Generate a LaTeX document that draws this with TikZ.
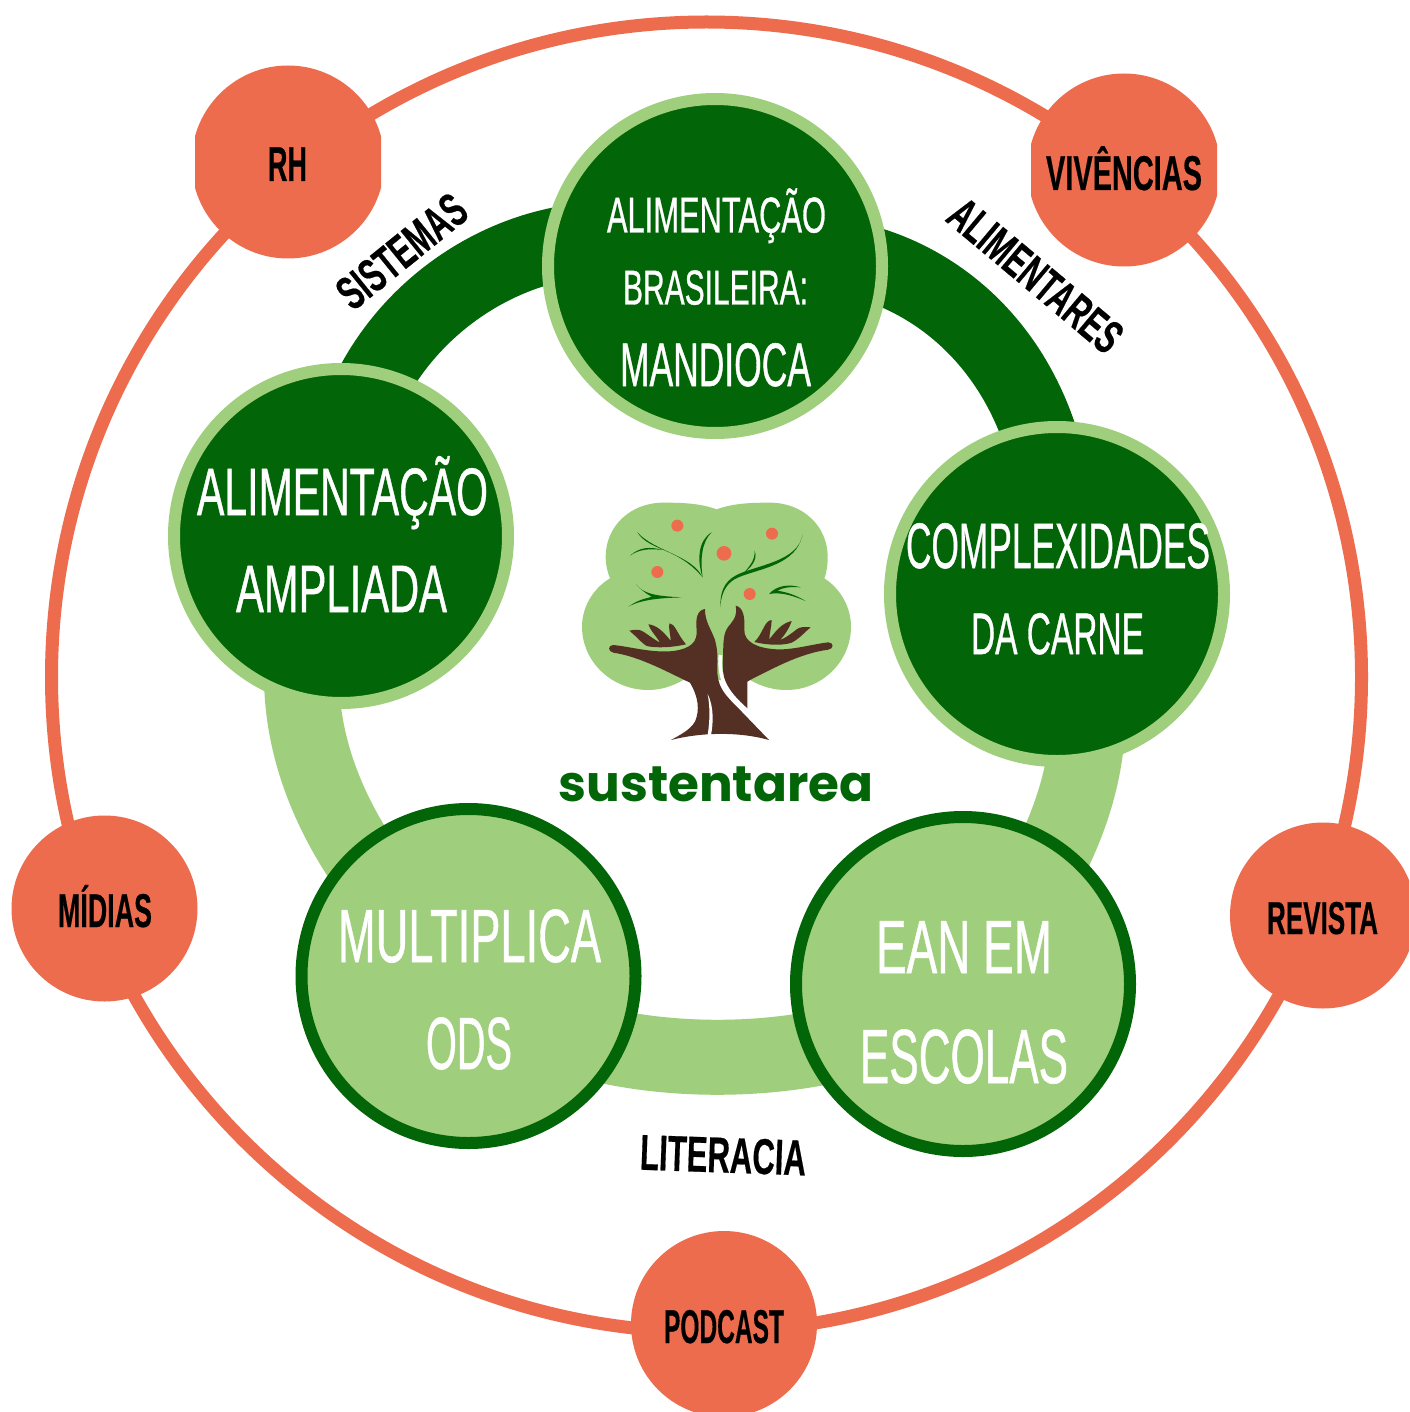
\documentclass[tikz,border=0pt]{standalone}
\usepackage{graphicx}
\usepackage{fontspec}
\setmainfont{Liberation Sans}[FakeBold=0.9]
\newfontfamily\blackfont{Liberation Sans Bold}[FakeBold=0.5]
\newfontfamily\logofont{Poppins}
\definecolor{coral}{HTML}{EE6C4E}
\definecolor{darkg}{HTML}{026507}
\definecolor{lightg}{HTML}{9FCE7C}
\definecolor{brownt}{HTML}{532F24}
\newcommand\fit[3]{\fontsize{\fpeval{#2/0.716}pt}{\fpeval{#2/0.6}pt}\selectfont\resizebox{#1pt}{\height}{#3}}
\tikzset{
  dcirc/.style={circle,draw=lightg,fill=darkg,line width=12pt,minimum size=334pt,inner sep=0pt},
  lcirc/.style={circle,draw=darkg,fill=lightg,line width=12pt,minimum size=334pt,inner sep=0pt},
  ocirc/.style={circle,fill=coral,minimum size=186pt,inner sep=0pt},
  ocircb/.style={circle,fill=coral,minimum size=193pt,inner sep=0pt},
  wtxt/.style={anchor=base,inner sep=0pt,text=white},
  btxt/.style={anchor=base,inner sep=0pt,text=black,font=\blackfont},
  dring/.style={draw=darkg,line width=74pt},
  lring/.style={draw=lightg,line width=75pt},
  branch/.style={fill=darkg,draw=none},
  fruit/.style={fill=coral,draw=none},
  bark/.style={fill=brownt,draw=none},
}
\begin{document}
\begin{tikzpicture}[x=1pt,y=-1pt]
\clip (0,0) rectangle (1409,1412);
\fill[white] (0,0) rectangle (1409,1412);
% outer ring
\node[circle,draw=coral,line width=13pt,minimum size=1310pt,inner sep=0pt] (outer) at (706.5,677) {};
% inner circle positions
\coordinate (pt) at (715,266);
\coordinate (pr) at (1057,594);
\coordinate (pbr) at (963,984);
\coordinate (pbl) at (468.5,976);
\coordinate (pl) at (341,536);
% inner ring
\draw[lring] (pl) .. controls (255,680) and (315,850) .. (pbl);
\draw[lring] (pr) .. controls (1125,720) and (1075,860) .. (pbr);
\draw[lring] (pbl) .. controls (560,1083) and (860,1083) .. (pbr);
\draw[dring] (pl) .. controls (325,315) and (555,178) .. (pt);
\draw[dring] (pt) .. controls (880,210) and (1078,330) .. (pr);
% inner circles
\node[dcirc] (top) at (pt) {};
\node[dcirc] (right) at (pr) {};
\node[dcirc] (left) at (pl) {};
\node[lcirc] (bl) at (pbl) {};
\node[lcirc] (br) at (pbr) {};
% inner texts
\node[wtxt] (t1) at (716.5,232.5) {\fit{219}{36}{ALIMENTAÇÃO}};
\node[wtxt] (t2) at (715.5,304.5) {\fit{185}{35}{BRASILEIRA:}};
\node[wtxt] (t3) at (715.5,386) {\fit{191}{44}{MANDIOCA}};
\node[wtxt] (l1) at (342.5,515) {\fit{291}{48}{ALIMENTAÇÃO}};
\node[wtxt] (l2) at (341.5,612) {\fit{211}{48}{AMPLIADA}};
\node[wtxt] (r1) at (1058,568) {\fit{304}{46}{COMPLEXIDADES}};
\node[wtxt] (r2) at (1057.5,654) {\fit{173}{42}{DA CARNE}};
\node[wtxt] (m1) at (469.5,962) {\fit{263}{54}{MULTIPLICA}};
\node[wtxt] (m2) at (469,1069) {\fit{86}{53}{ODS}};
\node[wtxt] (e1) at (964,973) {\fit{176}{54}{EAN EM}};
\node[wtxt] (e2) at (964,1083) {\fit{208}{55}{ESCOLAS}};
% outer circles
\begin{scope}
\clip (195,50) rectangle (381,280);
\node[ocircb] (rh) at (288,162) {};
\end{scope}
\begin{scope}
\clip (1031,50) rectangle (1217,280);
\node[ocircb] (viv) at (1124,170) {};
\end{scope}
\node[ocirc] (mid) at (104.5,908.5) {};
\node[ocirc] (rev) at (1323,915.5) {};
\node[ocirc] (pod) at (724,1324) {};
\node[btxt] (rht) at (287.5,181) {\fit{39}{35}{RH}};
\node[btxt] (vivt) at (1124,190) {\fit{156}{35}{VIVÊNCIAS}};
\node[btxt] (midt) at (105,927) {\fit{94}{34}{MÍDIAS}};
\node[btxt] (revt) at (1322.5,934) {\fit{111}{33}{REVISTA}};
\node[btxt] (podt) at (724,1343) {\fit{120}{34}{PODCAST}};
% ring labels
\node[btxt,rotate=39] (sis) at (412,264) {\fit{152}{34}{SISTEMAS}};
\node[btxt,rotate=-40] (ali) at (1025,288) {\fit{211}{34}{ALIMENTARES}};
\node[btxt,rotate=-2] (lit) at (722.5,1172.5) {\fit{166}{36}{LITERACIA}};
% logo
\begin{scope}[shift={(560,490)},scale=1/3]
  \fill[lightg] (470,58) .. controls (420,40) and (370,38) .. (310,38)
    .. controls (210,38) and (137,110) .. (137,200)
    .. controls (137,225) and (143,248) .. (150,265)
    .. controls (100,295) and (66,350) .. (66,410)
    .. controls (66,515) and (155,600) .. (265,600)
    .. controls (300,600) and (335,590) .. (370,570)
    -- (570,570)
    .. controls (605,590) and (640,600) .. (680,600)
    .. controls (785,600) and (873,515) .. (873,410)
    .. controls (873,350) and (840,295) .. (793,265)
    .. controls (800,248) and (803,225) .. (803,200)
    .. controls (803,110) and (730,38) .. (630,38)
    .. controls (570,38) and (520,40) .. (470,58) -- cycle;
  % branches
  \path[branch] (232,127) .. controls (270,185) and (350,170) .. (428,262) .. controls (395,195) and (285,185) .. (232,127);
  \path[branch] (210,197) .. controls (240,170) and (270,170) .. (310,180) .. controls (270,176) and (240,176) .. (210,197);
  \path[branch] (455,127) .. controls (415,150) and (410,210) .. (428,262) .. controls (420,210) and (425,155) .. (455,127);
  \path[branch] (728,133) .. controls (715,215) and (590,225) .. (530,255) .. controls (490,275) and (480,310) .. (481,352) .. controls (484,300) and (505,275) .. (535,262) .. controls (600,235) and (710,225) .. (728,133);
  \path[branch] (584,182) .. controls (595,210) and (570,235) .. (550,250) .. controls (570,228) and (585,210) .. (584,182);
  \path[branch] (228,283) .. controls (250,310) and (280,318) .. (365,322) .. controls (320,324) and (250,325) .. (205,350) .. controls (240,325) and (265,325) .. (275,320) .. controls (255,310) and (240,295) .. (228,283);
  \path[branch] (627,312) .. controls (650,285) and (690,282) .. (722,292) .. controls (690,290) and (670,292) .. (652,302) .. controls (690,308) and (715,320) .. (737,333) .. controls (700,318) and (665,305) .. (627,312);
  % fruit
  \fill[fruit] (352,107) circle [radius=18];
  \fill[fruit] (636,131) circle [radius=18];
  \fill[fruit] (492,190) circle [radius=22];
  \fill[fruit] (292,246) circle [radius=18];
  \fill[fruit] (569,312) circle [radius=18];
  % trunk and left hand
  \path[bark] (435,357) .. controls (412,360) and (406,385) .. (410,420)
     .. controls (412,455) and (395,475) .. (340,483)
     .. controls (280,490) and (210,470) .. (160,465)
     .. controls (143,465) and (143,485) .. (160,488)
     .. controls (240,500) and (320,545) .. (390,578)
     .. controls (415,620) and (420,660) .. (405,695)
     .. controls (390,720) and (360,735) .. (333,750)
     .. controls (400,732) and (520,720) .. (627,750)
     -- (545,665)
     .. controls (490,610) and (470,590) .. (472,530)
     .. controls (474,490) and (470,470) .. (465,450)
     .. controls (450,410) and (435,395) .. (435,357) -- cycle;
  % right hand
  \path[bark] (527,347) .. controls (550,352) and (555,380) .. (553,420)
     .. controls (552,455) and (590,475) .. (650,478)
     .. controls (700,480) and (760,462) .. (805,457)
     .. controls (822,458) and (822,476) .. (805,479)
     .. controls (720,490) and (640,535) .. (570,570)
     -- (562,575) -- (562,660) -- (530,630)
     .. controls (495,600) and (487,560) .. (489,510)
     .. controls (490,450) and (490,430) .. (505,410)
     .. controls (525,385) and (532,375) .. (527,347) -- cycle;
  % white grain
  \draw[white,line width=3.5pt] (481,495) .. controls (477,560) and (490,600) .. (562,662);
  \path[fill=white] (443,612) .. controls (462,650) and (460,700) .. (453,735) -- (443,735) .. controls (450,690) and (450,650) .. (443,612) -- cycle;
  % left fingers
  \path[bark] (208,422) .. controls (225,418) and (240,418) .. (250,425)
     .. controls (265,435) and (285,450) .. (300,458)
     .. controls (290,440) and (270,420) .. (265,403)
     .. controls (290,405) and (310,425) .. (332,452)
     .. controls (332,435) and (325,415) .. (328,400)
     .. controls (345,400) and (350,430) .. (378,463)
     .. controls (340,472) and (290,475) .. (260,468)
     .. controls (240,455) and (225,435) .. (208,422) -- cycle;
  % right fingers
  \path[bark] (752,412) .. controls (735,410) and (720,410) .. (710,418)
     .. controls (695,430) and (675,445) .. (660,450)
     .. controls (675,435) and (690,410) .. (695,393)
     .. controls (665,400) and (650,420) .. (628,448)
     .. controls (628,430) and (635,410) .. (635,390)
     .. controls (612,392) and (610,430) .. (583,456)
     .. controls (620,465) and (665,468) .. (695,458)
     .. controls (720,445) and (735,425) .. (752,412) -- cycle;
\end{scope}
\node[anchor=base,inner sep=0pt,text=darkg] (logo) at (716,801) {\resizebox{315pt}{!}{\logofont\bfseries sustentarea}};
\end{tikzpicture}
\end{document}
